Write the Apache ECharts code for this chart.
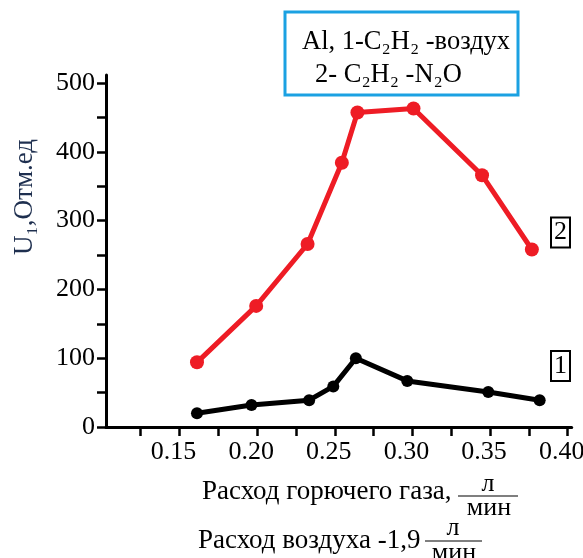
<!DOCTYPE html>
<html>
<head>
<meta charset="utf-8">
<script src="https://cdn.jsdelivr.net/npm/echarts@6/dist/echarts.min.js"></script>
<style>
html,body{margin:0;padding:0;background:#fff;}
#chart{width:583px;height:558px;}
</style>
</head>
<body>
<div id="chart"></div>
<script>
// Series 1: C2H2 - air
const gasFlowAir = [0.162, 0.197, 0.234, 0.2495, 0.264, 0.297, 0.349, 0.382];
const signalAir = [20, 32, 39, 59, 100, 67, 51, 39];
// Series 2: C2H2 - N2O
const gasFlowN2O = [0.162, 0.200, 0.233, 0.255, 0.265, 0.301, 0.345, 0.377];
const signalN2O = [94, 176, 266, 384, 457, 463, 366, 258];

const xTickLabels = ['0.15', '0.20', '0.25', '0.30', '0.35', '0.40'];
const yTickLabels = ['0', '100', '200', '300', '400', '500'];

const legendLine1 = 'Al, 1-C\u2082H\u2082 -воздух';
const legendLine2 = '2- C\u2082H\u2082 -N\u2082O';
const yName = 'U\u2081,Отм.ед';
const xName1 = 'Расход горючего газа,';
const xName2 = 'Расход воздуха -1,9';
const unitTop = 'л';
const unitBottom = 'мин';

const FONT = 'Liberation Serif';
const f = s => s + 'px "' + FONT + '"';

const chart = echarts.init(document.getElementById('chart'));

function pairs(xs, ys) { return xs.map((x, i) => [x, ys[i]]); }

const option = {
  animation: false,
  backgroundColor: '#fff',
  grid: [
    // plotting frame (axis lines)
    { left: 106, right: 11.3, top: 75, bottom: 131, outerBoundsMode: 'none', containLabel: false },
    // tick / label frame
    { left: 140.7, right: 15.3, top: 83, bottom: 131, outerBoundsMode: 'none', containLabel: false }
  ],
  xAxis: [
    {
      gridIndex: 0, type: 'value', min: 0.10358, max: 0.40257,
      axisLine: { show: true, onZero: false, lineStyle: { color: '#000', width: 3 } },
      axisTick: { show: false }, axisLabel: { show: false }, splitLine: { show: false }
    },
    {
      gridIndex: 1, type: 'value', min: 0.125, max: 0.4, interval: 0.025,
      axisLine: { show: false, onZero: false },
      axisTick: { show: true, inside: false, length: 9, lineStyle: { color: '#000', width: 2.5 } },
      splitLine: { show: false },
      axisLabel: {
        margin: 12, color: '#000', fontFamily: FONT, fontSize: 26, padding: [0, 12, 0, 0],
        formatter: v => { const s = v.toFixed(2); return xTickLabels.includes(s) && Math.abs(v * 40 - Math.round(v * 40)) < 1e-6 ? s : ''; }
      }
    }
  ],
  yAxis: [
    {
      gridIndex: 0, type: 'value', min: 0, max: 511.6,
      axisLine: { show: true, onZero: false, lineStyle: { color: '#000', width: 3 } },
      axisTick: { show: false }, axisLabel: { show: false }, splitLine: { show: false }
    },
    {
      gridIndex: 1, type: 'value', min: 0, max: 500, interval: 50, offset: 34.7,
      axisLine: { show: false, onZero: false },
      axisTick: { show: true, inside: false, length: 9, lineStyle: { color: '#000', width: 2.5 } },
      splitLine: { show: false },
      axisLabel: {
        margin: 11, color: '#000', fontFamily: FONT, fontSize: 26,
        formatter: v => { const s = String(Math.round(v)); return yTickLabels.includes(s) ? s : ''; }
      }
    }
  ],
  series: [
    {
      type: 'line', name: '1', xAxisIndex: 0, yAxisIndex: 0, data: pairs(gasFlowAir, signalAir),
      symbol: 'circle', symbolSize: 12,
      itemStyle: { color: '#000' }, lineStyle: { color: '#000', width: 5 }
    },
    {
      type: 'line', name: '2', xAxisIndex: 0, yAxisIndex: 0, data: pairs(gasFlowN2O, signalN2O),
      symbol: 'circle', symbolSize: 14,
      itemStyle: { color: '#ee1c25' }, lineStyle: { color: '#ee1c25', width: 5 }
    }
  ],
  graphic: [
    { type: 'rect', shape: { x: 285, y: 12, width: 233, height: 83 }, style: { fill: '#fff', stroke: '#1ba1e2', lineWidth: 3 } },
    { type: 'text', x: 302, y: 42, style: { text: legendLine1, font: f(26.5), fill: '#000', align: 'left', verticalAlign: 'middle' } },
    { type: 'text', x: 315, y: 75, style: { text: legendLine2, font: f(26.5), fill: '#000', align: 'left', verticalAlign: 'middle' } },
    { type: 'text', x: 25, y: 197, rotation: Math.PI / 2, style: { text: yName, font: f(27), fill: '#1e2f4f', align: 'center', verticalAlign: 'middle' } },
    { type: 'text', x: 560.5, y: 232.5, style: { text: '2', font: f(26), fill: '#000', align: 'center', verticalAlign: 'middle', backgroundColor: '#fff', borderColor: '#000', borderWidth: 2, padding: [2, 2, 0, 2] } },
    { type: 'text', x: 560.5, y: 366, style: { text: '1', font: f(26), fill: '#000', align: 'center', verticalAlign: 'middle', backgroundColor: '#fff', borderColor: '#000', borderWidth: 2, padding: [2, 2, 0, 2] } },
    { type: 'text', x: 202, y: 492, style: { text: xName1, font: f(27), fill: '#000', align: 'left', verticalAlign: 'middle' } },
    { type: 'text', x: 488, y: 484, style: { text: unitTop, font: f(26), fill: '#000', align: 'center', verticalAlign: 'middle' } },
    { type: 'line', shape: { x1: 458, y1: 496, x2: 518, y2: 496 }, style: { stroke: '#555', lineWidth: 1.5 } },
    { type: 'text', x: 489, y: 508, style: { text: unitBottom, font: f(26), fill: '#000', align: 'center', verticalAlign: 'middle' } },
    { type: 'text', x: 198, y: 541, style: { text: xName2, font: f(27), fill: '#000', align: 'left', verticalAlign: 'middle' } },
    { type: 'text', x: 453, y: 528, style: { text: unitTop, font: f(26), fill: '#000', align: 'center', verticalAlign: 'middle' } },
    { type: 'line', shape: { x1: 425, y1: 541, x2: 482, y2: 541 }, style: { stroke: '#555', lineWidth: 1.5 } },
    { type: 'text', x: 454, y: 553, style: { text: unitBottom, font: f(26), fill: '#000', align: 'center', verticalAlign: 'middle' } }
  ]
};
chart.setOption(option);
</script>
</body>
</html>
